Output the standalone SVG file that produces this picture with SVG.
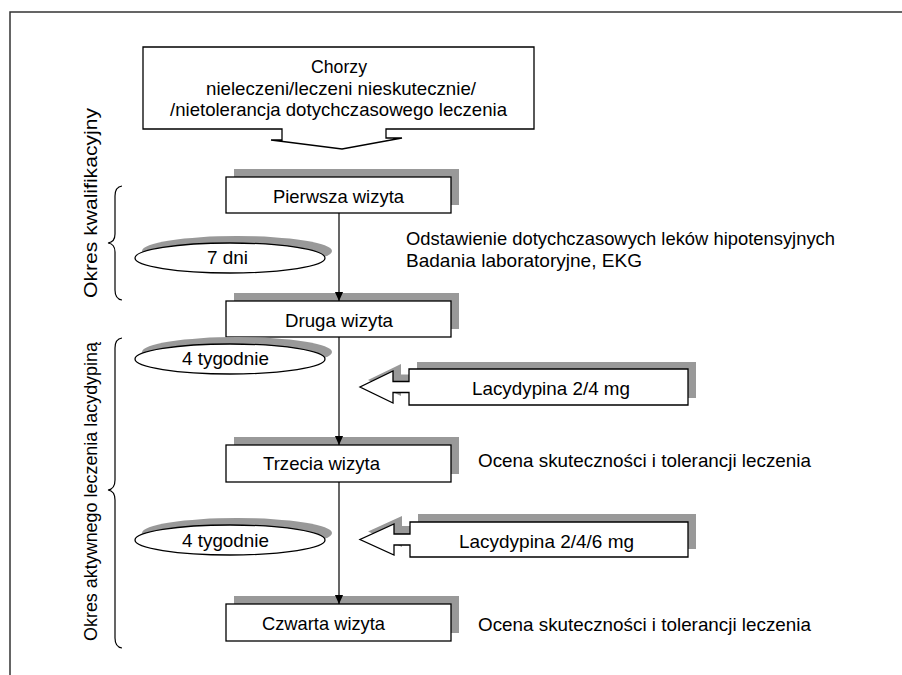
<svg xmlns="http://www.w3.org/2000/svg" width="902" height="675" viewBox="0 0 902 675">
<defs>
<style>
text{font-family:"Liberation Sans",Arial,sans-serif;font-size:19px;fill:#000}
.box{fill:#fff;stroke:#000;stroke-width:1.3}
.sh{fill:#999;stroke:none}
.ln{fill:none;stroke:#000;stroke-width:1.2}
</style>
<marker id="arr" markerWidth="9" markerHeight="12" refX="11" refY="5" orient="auto" markerUnits="userSpaceOnUse" viewBox="0 0 11 10">
<path d="M0,0 L11,5 L0,10 Z" fill="#000"/>
</marker>
</defs>
<rect width="902" height="675" fill="#fff"/>
<path d="M10,675 V12 H902" fill="none" stroke="#333" stroke-width="1.5"/>

<g id="start">
<path class="box" d="M143,47 H534 V129 H386 V138 H402 L342,149 L271,140 H282 V129 H143 Z"/>
<text x="311" y="73" textLength="56" lengthAdjust="spacingAndGlyphs">Chorzy</text>
<text x="206" y="95" textLength="270" lengthAdjust="spacingAndGlyphs">nieleczeni/leczeni nieskutecznie/</text>
<text x="170" y="116" textLength="337" lengthAdjust="spacingAndGlyphs">/nietolerancja dotychczasowego leczenia</text>
</g>

<g id="brace1">
<path class="ln" d="M122,186 Q115,187 115,196 V234 Q115,242 108,243 Q115,244 115,252 V290 Q115,299 122,300"/>
<text transform="translate(97,298) rotate(-90)" x="0" y="0" textLength="190" lengthAdjust="spacingAndGlyphs">Okres kwalifikacyjny</text>
</g>
<g id="brace2">
<path class="ln" d="M122,338 Q115,339 115,348 V480 Q115,489 108,490 Q115,491 115,500 V638 Q115,647 122,648"/>
<text transform="translate(97,641) rotate(-90)" x="0" y="0" textLength="299" lengthAdjust="spacingAndGlyphs">Okres aktywnego leczenia lacydypiną</text>
</g>

<g id="v1">
<rect class="sh" x="234" y="169" width="225" height="36"/>
<rect class="box" x="226" y="177" width="225" height="36"/>
<text x="273" y="203" textLength="131" lengthAdjust="spacingAndGlyphs">Pierwsza wizyta</text>
</g>
<g id="d1">
<ellipse class="sh" cx="237" cy="251" rx="95" ry="15"/>
<ellipse class="box" cx="230" cy="258" rx="95" ry="15"/>
<text x="207" y="264" textLength="41" lengthAdjust="spacingAndGlyphs">7 dni</text>
</g>
<g id="note1">
<text x="406" y="245" textLength="429" lengthAdjust="spacingAndGlyphs">Odstawienie dotychczasowych leków hipotensyjnych</text>
<text x="406" y="267" textLength="236" lengthAdjust="spacingAndGlyphs">Badania laboratoryjne, EKG</text>
</g>
<g id="v2">
<rect class="sh" x="234" y="293" width="225" height="36"/>
<rect class="box" x="226" y="301" width="225" height="36"/>
<text x="285" y="327" textLength="108" lengthAdjust="spacingAndGlyphs">Druga wizyta</text>
</g>
<g id="d2">
<ellipse class="sh" cx="237" cy="352" rx="95" ry="15"/>
<ellipse class="box" cx="230" cy="359" rx="95" ry="15"/>
<text x="182" y="365" textLength="87" lengthAdjust="spacingAndGlyphs">4 tygodnie</text>
</g>
<g id="drug1">
<path class="sh" transform="translate(8,-7)" d="M409,369 H688 V405 H409 V392.5 H393 V403 L360,387 L393,371 V381.5 H409 Z"/>
<path class="box" d="M409,369 H688 V405 H409 V392.5 H393 V403 L360,387 L393,371 V381.5 H409 Z"/>
<text x="472" y="395" textLength="158" lengthAdjust="spacingAndGlyphs">Lacydypina 2/4 mg</text>
</g>
<g id="v3">
<rect class="sh" x="234" y="437" width="225" height="37"/>
<rect class="box" x="226" y="445" width="225" height="37"/>
<text x="263" y="470" textLength="117" lengthAdjust="spacingAndGlyphs">Trzecia wizyta</text>
<text x="478" y="467" textLength="333" lengthAdjust="spacingAndGlyphs">Ocena skuteczności i tolerancji  leczenia</text>
</g>
<g id="d3">
<ellipse class="sh" cx="237" cy="533" rx="95" ry="15"/>
<ellipse class="box" cx="230" cy="540" rx="95" ry="15"/>
<text x="182" y="547" textLength="87" lengthAdjust="spacingAndGlyphs">4 tygodnie</text>
</g>
<g id="drug2">
<path class="sh" transform="translate(8,-8)" d="M410,522 H688 V557 H410 V545 H394 V555 L360,539.5 L394,524 V534 H410 Z"/>
<path class="box" d="M410,522 H688 V557 H410 V545 H394 V555 L360,539.5 L394,524 V534 H410 Z"/>
<text x="459" y="548" textLength="175" lengthAdjust="spacingAndGlyphs">Lacydypina 2/4/6 mg</text>
</g>
<g id="v4">
<rect class="sh" x="234" y="596" width="225" height="37"/>
<rect class="box" x="226" y="604" width="225" height="37"/>
<text x="262" y="630" textLength="123" lengthAdjust="spacingAndGlyphs">Czwarta wizyta</text>
<text x="478" y="631" textLength="333" lengthAdjust="spacingAndGlyphs">Ocena skuteczności i tolerancji  leczenia</text>
</g>

<g id="connectors">
<line class="ln" x1="339" y1="213" x2="339" y2="301" marker-end="url(#arr)"/>
<line class="ln" x1="339" y1="337" x2="339" y2="445" marker-end="url(#arr)"/>
<line class="ln" x1="339" y1="482" x2="339" y2="604" marker-end="url(#arr)"/>
</g>
</svg>
